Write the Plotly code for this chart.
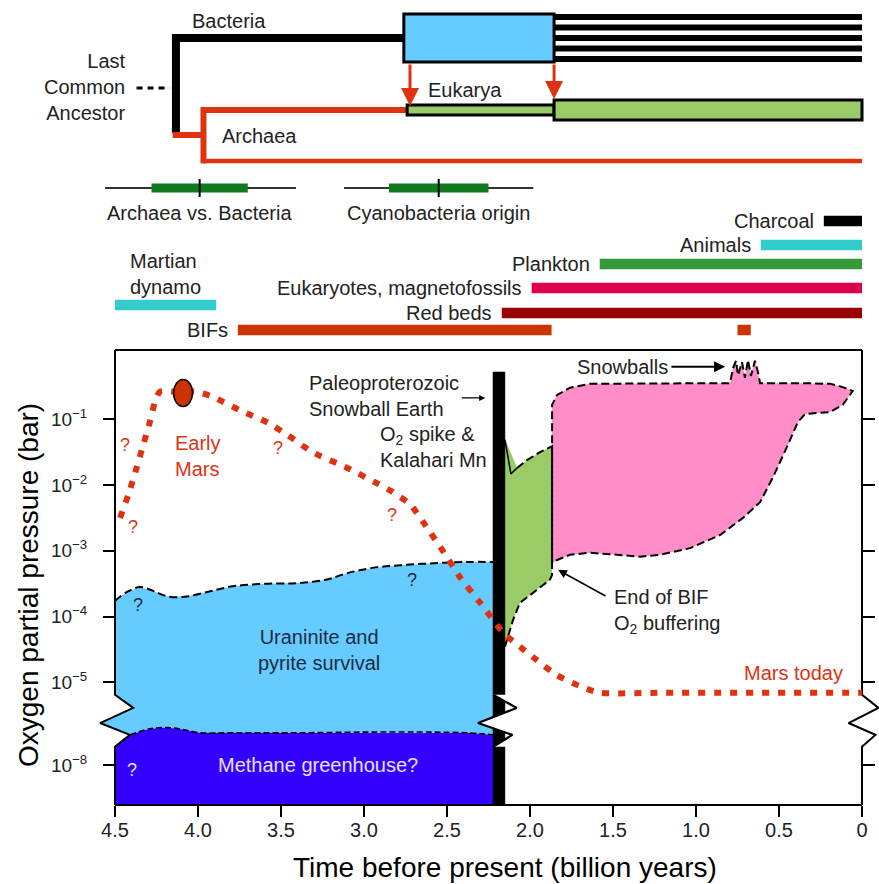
import plotly.graph_objects as go

# ------------------------------------------------------------------ data
# Mars atmospheric O2 (Gyr before present, log10 bar)
MARS_G = [4.47, 4.42, 4.37, 4.33, 4.29, 4.26, 4.23, 4.14, 4.01, 3.91, 3.75, 3.58, 3.46, 3.31,
          3.10, 2.94, 2.83, 2.72, 2.62, 2.52, 2.42, 2.30, 2.16, 2.06, 1.96, 1.84, 1.68, 1.58, 1.2, 0.0]
MARS_LOGP = [-2.50, -2.15, -1.74, -1.39, -1.04, -0.74, -0.58, -0.58, -0.58, -0.66, -0.86, -1.05, -1.24, -1.50,
             -1.74, -1.95, -2.10, -2.30, -2.65, -3.02, -3.41, -3.79, -4.25, -4.46, -4.66, -4.89, -5.08, -5.16,
             -5.16, -5.16]
EARLY_MARS = dict(g=4.09, logp=-0.60, dg=0.057, dlog=0.205)

# Uraninite / pyrite survival upper limit
BLUE_TOP_G = [4.5, 4.43, 4.35, 4.27, 4.19, 4.08, 3.95, 3.79, 3.58, 3.39, 3.23, 3.10, 2.95, 2.78, 2.58, 2.38, 2.223]
BLUE_TOP_LOGP = [-3.76, -3.63, -3.55, -3.61, -3.69, -3.70, -3.63, -3.54, -3.50, -3.49, -3.44, -3.34, -3.26,
                 -3.22, -3.19, -3.17, -3.17]
# Methane greenhouse upper limit (below the axis break)
METH_G = [4.41, 4.29, 4.19, 4.09, 3.99, 3.79, 3.39, 2.98, 2.58, 2.38, 2.223]
METH_LOGP = [-7.54, -7.45, -7.43, -7.46, -7.51, -7.51, -7.51, -7.50, -7.50, -7.51, -7.54]

# Paleoproterozoic O2 spike (green), top then bottom
GREEN_TOP_G = [2.151, 2.078, 2.018, 1.94, 1.867]
GREEN_TOP_LOGP = [-1.31, -1.74, -1.62, -1.50, -1.41]
SPIKE_G = [2.151, 2.115, 2.078]
SPIKE_LOGP = [-1.31, -1.83, -1.74]
GREEN_BOT_G = [1.867, 1.880, 1.982, 2.060, 2.102, 2.133, 2.151]
GREEN_BOT_LOGP = [-3.37, -3.44, -3.64, -3.79, -4.05, -4.31, -4.46]

# Proterozoic-Phanerozoic O2 envelope (pink), closed outline
PINK_G = [1.867, 1.867, 1.837, 1.759, 1.639, 0.976, 0.795, 0.777, 0.759, 0.747, 0.723, 0.705, 0.687,
          0.669, 0.645, 0.627, 0.614, 0.373, 0.193, 0.116, 0.056, 0.116, 0.193, 0.343, 0.386, 0.452,
          0.536, 0.614, 0.717, 0.855, 1.036, 1.217, 1.337, 1.476, 1.639, 1.759, 1.837, 1.867]
PINK_LOGP = [-3.19, -0.78, -0.63, -0.52, -0.46, -0.45, -0.45, -0.22, -0.11, -0.33, -0.13, -0.37, -0.10,
             -0.34, -0.11, -0.28, -0.45, -0.45, -0.46, -0.51, -0.57, -0.78, -0.89, -0.92, -1.04, -1.42,
             -1.88, -2.26, -2.50, -2.76, -2.96, -3.06, -3.09, -3.06, -3.03, -3.06, -3.14, -3.19]

SNOWBALL_EARTH = dict(g0=2.223, g1=2.151, top_logp=-0.28)

# Geological / biological records (start, end in Gyr)
RECORDS = [
    ("Charcoal", [(0.23, 0.0)], "#000000"),
    ("Animals", [(0.61, 0.0)], "#33CCCC"),
    ("Plankton", [(1.58, 0.0)], "#33993A"),
    ("Eukaryotes, magnetofossils", [(1.99, 0.0)], "#E0004A"),
    ("Red beds", [(2.17, 0.0)], "#990000"),
    ("BIFs", [(3.76, 1.87), (0.75, 0.67)], "#CC3300"),
    ("Martian<br>dynamo", [(4.5, 3.89)], "#33CCCC"),
]
RECORD_ROWS = [221, 245, 264, 288, 313, 330, 305]

# Molecular-clock estimates: (outer lo, outer hi, core lo, core hi, mid)
CLOCKS = [("Archaea vs. Bacteria", 4.56, 3.41, 4.28, 3.70, 3.99),
          ("Cyanobacteria origin", 3.12, 1.98, 2.85, 2.25, 2.55)]

# Tree of life branch times (Gyr)
LCA_G = (4.37, 4.17)
BACTERIA_SPLIT = 4.133
ARCHAEA_SPLIT = 3.967
BACT_DIVERSIFY = (2.76, 1.855)
EUK_STEM = (2.74, 1.855)
EUK_CROWN = (1.855, 0.0)
ARROWS_G = [2.723, 1.855]

X_TICKS = [4.5, 4.0, 3.5, 3.0, 2.5, 2.0, 1.5, 1.0, 0.5, 0.0]
X_TICKTEXT = ["4.5", "4.0", "3.5", "3.0", "2.5", "2.0", "1.5", "1.0", "0.5", "0"]
Y_TICK_LOGP = [-1, -2, -3, -4, -5, -8]

# ------------------------------------------------------------------ scale helpers
BREAK_SHIFT = 1.742          # decades hidden by the axis break below 1e-5
def up(v):                   # values above the break
    return list(v) if isinstance(v, (list, tuple)) else v
def lo(v):                   # values below the break
    return [x + BREAK_SHIFT for x in v] if isinstance(v, (list, tuple)) else v + BREAK_SHIFT

U_TOP, U_BOT = 0.054, -6.866                 # frame
ZIG_U = [-5.19, -5.39, -5.62, -5.80, -5.98]  # axis break zigzag
ZIG_DX = [0, -0.11, 0.09, -0.09, 0]

RED = "#DD3311"
TXT = "#222222"
FONT = "Liberation Sans, Arial, Helvetica, sans-serif"
FS = 20

fig = go.Figure()

def line(x, y, color="black", width=2, dash=None, yaxis="y", fill=None, fillcolor=None, mode="lines",
         shape="linear", smoothing=1.0):
    fig.add_trace(go.Scatter(x=x, y=y, mode=mode, yaxis=yaxis, fill=fill, fillcolor=fillcolor,
                             line=dict(color=color, width=width, dash=dash, shape=shape,
                                       smoothing=smoothing if shape == "spline" else None),
                             hoverinfo="skip", showlegend=False))

# ---- light blue: uraninite & pyrite survival
lz_x = [4.5 + d for d in ZIG_DX]
bx = BLUE_TOP_G + [BLUE_TOP_G[-1]] + METH_G[::-1] + lz_x[3::-1] + [BLUE_TOP_G[0]]
by = up(BLUE_TOP_LOGP) + [lo(METH_LOGP[-1])] + lo(METH_LOGP)[::-1] + ZIG_U[3::-1] + [BLUE_TOP_LOGP[0]]
line(bx, by, color="rgba(0,0,0,0)", width=0, fill="toself", fillcolor="#66CCFF")
# ---- dark blue: methane greenhouse
mx = METH_G + [METH_G[-1], METH_G[-1], 4.5, 4.5, METH_G[0]]
my = lo(METH_LOGP) + [U_BOT, U_BOT, U_BOT, ZIG_U[4], lo(METH_LOGP[0])]
line(mx, my, color="rgba(0,0,0,0)", width=0, fill="toself", fillcolor="#3300FF")
# ---- green
gx = GREEN_TOP_G + GREEN_BOT_G + [GREEN_TOP_G[0]]
gy = GREEN_TOP_LOGP + GREEN_BOT_LOGP + [GREEN_TOP_LOGP[0]]
line(gx, gy, color="rgba(0,0,0,0)", width=0, fill="toself", fillcolor="#99CC66")
line(SPIKE_G + GREEN_TOP_G[1:2], SPIKE_LOGP + GREEN_TOP_LOGP[1:2], color="#99CC66", width=0.1,
     fill="toself", fillcolor="#99CC66")
# ---- pink
line(PINK_G, PINK_LOGP, color="rgba(0,0,0,0)", width=0, fill="toself", fillcolor="#FF8EC8")

# ---- dashed outlines
DASH = "8px,4px"
line(BLUE_TOP_G, BLUE_TOP_LOGP, width=2, dash=DASH, shape="spline")
line(METH_G, lo(METH_LOGP), width=1.6, dash="6px,3px", shape="spline")
line(GREEN_TOP_G[1:] + GREEN_BOT_G, GREEN_TOP_LOGP[1:] + GREEN_BOT_LOGP, width=2, dash=DASH)
line(SPIKE_G, SPIKE_LOGP, width=1.5)
line(PINK_G, PINK_LOGP, width=2, dash=DASH)

# ---- Paleoproterozoic snowball bar with break
s = SNOWBALL_EARTH
line([s["g0"], s["g1"], s["g1"], s["g0"], s["g0"]], [s["top_logp"], s["top_logp"], U_BOT, U_BOT, s["top_logp"]],
     color="black", width=0.5, fill="toself", fillcolor="black")
bz_x = [s["g0"] + d * 1.3 for d in ZIG_DX]
bz_x[2] = s["g0"] + 0.09
line(bz_x + [2.0, 2.0, bz_x[0]], ZIG_U + [ZIG_U[-1], ZIG_U[0], ZIG_U[0]], color="white", width=0,
     fill="toself", fillcolor="white")
line(bz_x, ZIG_U, width=2.2)

# ---- frame with break marks
line([4.5, 4.5] + lz_x + [4.5], [U_TOP, ZIG_U[0]] + ZIG_U + [U_BOT], width=2)
rz_x = [0.0 + d * 0.9 for d in ZIG_DX]
line([0, 0] + rz_x + [0], [U_TOP, ZIG_U[0]] + ZIG_U + [U_BOT], width=2)
line([4.5, 0], [U_TOP, U_TOP], width=2)
line([4.5, 0], [U_BOT, U_BOT], width=2)

# ---- Mars
line(MARS_G, MARS_LOGP, color=RED, width=6, dash="7px,9px", shape="spline", smoothing=0.6)
e = EARLY_MARS
fig.add_shape(type="circle", xref="x", yref="y", x0=e["g"] + e["dg"], x1=e["g"] - e["dg"],
              y0=e["logp"] - e["dlog"], y1=e["logp"] + e["dlog"], fillcolor="#CC3300",
              line=dict(color="black", width=1.5))

# ---- right axis dummy
fig.add_trace(go.Scatter(x=[None], y=[None], yaxis="y3", showlegend=False))

# ------------------------------------------------------------------ top panel (y2 in pixel rows)
Y2 = "y2"
line([BACT_DIVERSIFY[0], BACTERIA_SPLIT, BACTERIA_SPLIT], [38, 38, 133], width=8, yaxis=Y2)
line([BACTERIA_SPLIT + 0.02, ARCHAEA_SPLIT], [135, 135], color=RED, width=6, yaxis=Y2)
line([ARCHAEA_SPLIT, ARCHAEA_SPLIT], [107, 163.5], color=RED, width=6, yaxis=Y2)
line([ARCHAEA_SPLIT, EUK_STEM[0]], [110, 110], color=RED, width=6, yaxis=Y2)
line([ARCHAEA_SPLIT, 0.0], [161, 161], color=RED, width=4.5, yaxis=Y2)
line(list(LCA_G), [88, 88], width=3, dash="6px,5px", yaxis=Y2)
for row in [17, 27.5, 38, 48.5, 59]:
    line([BACT_DIVERSIFY[1], 0.0], [row, row], width=6, yaxis=Y2)
for (g0, g1, y0, y1, col) in [(BACT_DIVERSIFY[0], BACT_DIVERSIFY[1], 14, 62, "#66CCFF"),
                              (EUK_STEM[0], EUK_STEM[1], 105, 115, "#99CC66"),
                              (EUK_CROWN[0], EUK_CROWN[1], 100, 120, "#99CC66")]:
    fig.add_shape(type="rect", xref="x", yref="y2", x0=g0, x1=g1, y0=y0, y1=y1,
                  fillcolor=col, line=dict(color="black", width=3))
for g, yend in zip(ARROWS_G, [106, 99]):
    fig.add_annotation(x=g, y=yend, ax=g, ay=63, xref="x", yref="y2", axref="x", ayref="y2",
                       showarrow=True, arrowhead=2, arrowsize=1.2, arrowwidth=3, arrowcolor=RED, text="")

for (name, a, b, c, d, m) in CLOCKS:
    line([a, b], [188, 188], color="#333333", width=2, yaxis=Y2)
    line([c, d], [188, 188], color="#117A1E", width=9, yaxis=Y2)
    line([m, m], [179, 197], width=2, yaxis=Y2)
    fig.add_annotation(x=m, y=213, xref="x", yref="y2", text=name, showarrow=False,
                       font=dict(size=FS, color=TXT, family=FONT))

for (name, segs, col), row in zip(RECORDS, RECORD_ROWS):
    for (a, b) in segs:
        line([a, b], [row, row], color=col, width=10.5, yaxis=Y2)
    if name.startswith("Martian"):
        fig.add_annotation(x=4.42, y=274, xref="x", yref="y2", text=name, showarrow=False, align="left",
                           xanchor="left", font=dict(size=FS, color=TXT, family=FONT))
    else:
        fig.add_annotation(x=segs[0][0] + 0.045, y=row, xref="x", yref="y2", text=name, showarrow=False,
                           xanchor="right", font=dict(size=FS, color=TXT, family=FONT))

def txt(x, y, t, yref="y", color=TXT, size=FS, xanchor="center", align="center"):
    fig.add_annotation(x=x, y=y, xref="x", yref=yref, text=t, showarrow=False, xanchor=xanchor, align=align,
                       yanchor="middle", font=dict(size=size, color=color, family=FONT))

txt(4.05, 21, "Bacteria", yref=Y2, xanchor="left")
txt(4.42, 87, "Last<br>Common<br>Ancestor", yref=Y2, xanchor="right", align="right")
txt(3.867, 136, "Archaea", yref=Y2, xanchor="left")
txt(2.627, 90, "Eukarya", yref=Y2, xanchor="left")

txt(4.15, -1.56, "Early<br>Mars", color=RED, xanchor="left", align="left")
for (gq, uq) in [(4.44, -1.39), (4.39, -2.64), (3.52, -1.44), (2.83, -2.45)]:
    txt(gq, uq, "?", color=RED, size=18)
txt(4.36, -3.82, "?", color="#1A2A44", size=18)
txt(2.71, -3.44, "?", color="#1A2A44", size=18)
txt(4.40, -6.33, "?", color="#E8E0FF", size=18)
txt(3.27, -4.51, "Uraninite and<br>pyrite survival", color="#1A2A44")
txt(3.28, -6.26, "Methane greenhouse?", color="#E8E0FF")
txt(3.343, -0.645, "Paleoproterozoic<br>Snowball Earth", xanchor="left", align="left")
txt(2.916, -1.42, "O<sub>2</sub> spike &<br>Kalahari Mn", xanchor="left", align="left")
txt(1.729, -0.20, "Snowballs", xanchor="left")
txt(1.506, -3.93, "End of BIF<br>O<sub>2</sub> buffering", xanchor="left", align="left")
txt(0.102, -4.86, "Mars today", color=RED, xanchor="right")

def arrow(x, y, ax, ay, w=1.5, size=1.0):
    fig.add_annotation(x=x, y=y, ax=ax, ay=ay, xref="x", yref="y", axref="x", ayref="y", text="",
                       showarrow=True, arrowhead=2, arrowsize=size, arrowwidth=w, arrowcolor="black")
arrow(2.27, -0.675, 2.42, -0.675, w=1.2, size=1.0)
arrow(0.825, -0.20, 1.157, -0.20, w=2, size=1.1)
arrow(1.831, -3.29, 1.536, -3.70, w=1.6, size=1.1)

fig.add_annotation(x=505 / 879, y=1 - 867 / 884, xref="paper", yref="paper", xanchor="center", yanchor="middle",
                   text="Time before present (billion years)", showarrow=False,
                   font=dict(size=28, color="black", family=FONT))
fig.add_annotation(x=28 / 879, y=1 - 585 / 884, xref="paper", yref="paper", xanchor="center", yanchor="middle",
                   text="Oxygen partial pressure (bar)", showarrow=False, textangle=-90,
                   font=dict(size=28, color="black", family=FONT))

# ------------------------------------------------------------------ layout
y_tickvals = [up(v) if v >= -5 else lo(v) for v in Y_TICK_LOGP]
y_ticktext = ["10<sup>−%d</sup>" % (-v) for v in Y_TICK_LOGP]
U_RANGE = [-6.973, 0.130]
common_y = dict(range=U_RANGE, tickvals=y_tickvals, ticks="outside", ticklen=12, tickwidth=1.5,
                tickcolor="black", showgrid=False, zeroline=False, showline=False)
fig.update_layout(
    width=879, height=884, margin=dict(l=0, r=0, t=0, b=0),
    paper_bgcolor="white", plot_bgcolor="rgba(0,0,0,0)", showlegend=False,
    font=dict(family=FONT, color="black"),
    xaxis=dict(domain=[0, 1], range=[5.1928, -0.1024], anchor="free", position=1 - 805 / 884,
               tickvals=X_TICKS, ticktext=X_TICKTEXT, ticks="outside", ticklen=11, tickwidth=1.5,
               tickcolor="black", tickfont=dict(size=20, family=FONT, color="#222"), showgrid=False,
               zeroline=False, showline=False, ticklabelstandoff=-4),
    yaxis=dict(domain=[1 - 812 / 884, 1 - 345 / 884], anchor="free", position=115 / 879,
               ticktext=y_ticktext, tickfont=dict(size=19, family=FONT, color="#222"),
               ticklabelstandoff=12, **common_y),
    yaxis3=dict(overlaying="y", side="right", anchor="free", position=862 / 879, showticklabels=False,
                **common_y),
    yaxis2=dict(domain=[1 - 345 / 884, 1], range=[345, 0], visible=False, anchor="x"),
)
fig.write_html("out.html", config={"displayModeBar": False},
               post_script="document.body.style.margin='0px';")
